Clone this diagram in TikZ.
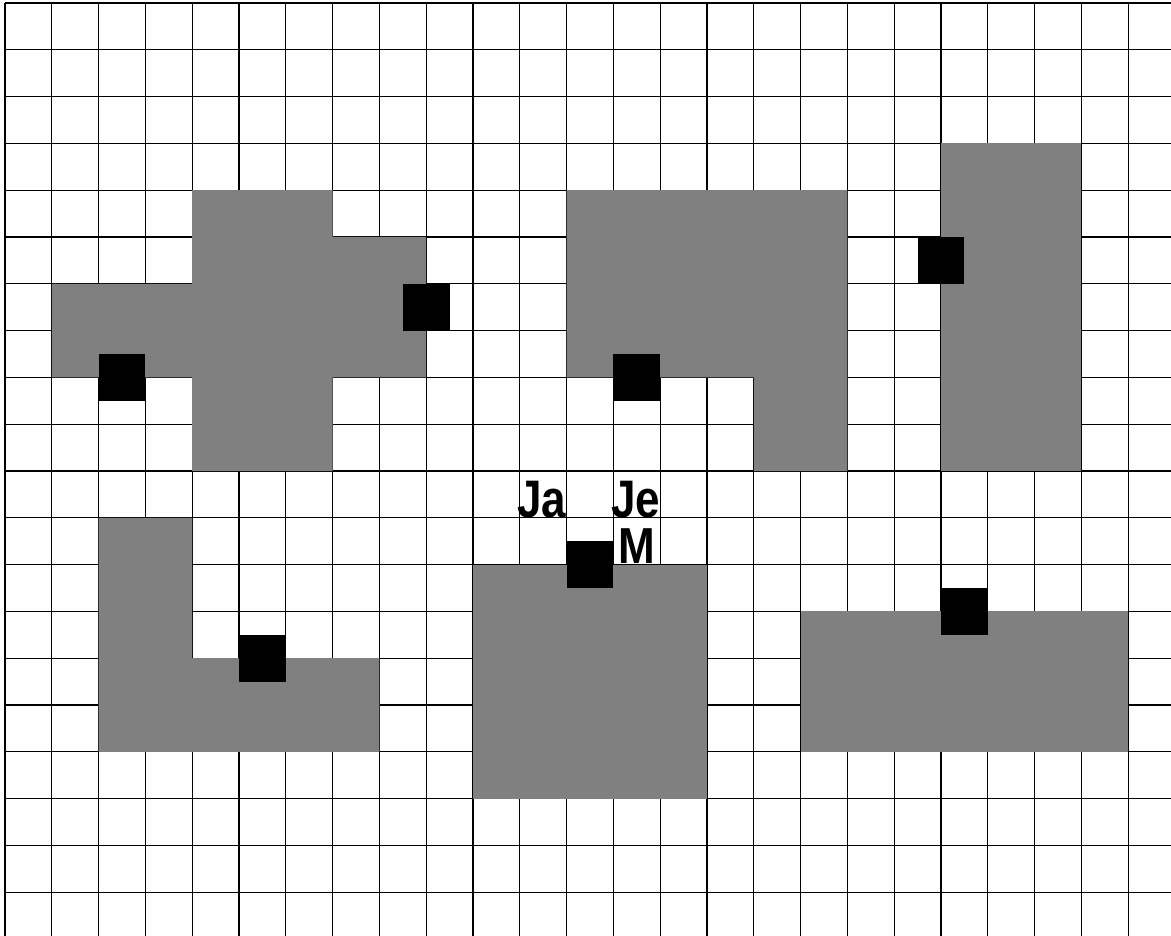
\documentclass[tikz,border=0pt]{standalone}
\usepackage{fontspec}
\usepackage{graphicx}
\setmainfont{Liberation Sans}
\tikzset{
  gridline/.style={black, line width=1.3pt},
  region/.style={fill={rgb,255:red,128;green,128;blue,128}, draw=none},
  marker/.style={fill=black, draw=none},
  lbl/.style={inner sep=0pt, anchor=base west, text depth=0pt, font=\fontsize{44}{44}\selectfont\bfseries}
}
\begin{document}
\begin{tikzpicture}[x=1pt,y=-1pt]
\useasboundingbox (0,0) rectangle (1171,936);
\fill[white] (0,0) rectangle (1171,936);
% grid
\foreach \k in {0,...,24} \draw[gridline] ({5+46.8*\k},3) -- ({5+46.8*\k},936);
\foreach \k in {0,...,19} \draw[gridline] (5,{3+46.8*\k}) -- (1171,{3+46.8*\k});
\begin{scope}[shift={(5,3)}, x=46.8pt, y=-46.8pt]
  % cross shape
  \fill[region] (4,4) -- (7,4) -- (7,5) -- (9,5) -- (9,8) -- (7,8) -- (7,10) -- (4,10) -- (4,8) -- (1,8) -- (1,6) -- (4,6) -- cycle;
  % top middle shape
  \fill[region] (12,4) -- (18,4) -- (18,10) -- (16,10) -- (16,8) -- (12,8) -- cycle;
  % tall right shape
  \fill[region] (20,3) rectangle (23,10);
  % L shape
  \fill[region] (2,11) -- (4,11) -- (4,14) -- (8,14) -- (8,16) -- (2,16) -- cycle;
  % centre block
  \fill[region] (10,12) rectangle (15,17);
  % bottom right block
  \fill[region] (17,13) rectangle (24,16);
  % markers
  \fill[marker] (2,7.5) rectangle (3,8.5);
  \fill[marker] (8.5,6) rectangle (9.5,7);
  \fill[marker] (13,7.5) rectangle (14,8.5);
  \fill[marker] (19.5,5) rectangle (20.5,6);
  \fill[marker] (5,13.5) rectangle (6,14.5);
  \fill[marker] (12,11.5) rectangle (13,12.5);
  \fill[marker] (20,12.5) rectangle (21,13.5);
\end{scope}
\node[lbl] (ja) at (517,517) {\scalebox{1}[1.2]{Ja}};
\node[lbl] (je) at (611,517) {\scalebox{1}[1.2]{Je}};
\node[lbl] (m) at (618,563) {\scalebox{1}[1.15]{M}};
\end{tikzpicture}
\end{document}
